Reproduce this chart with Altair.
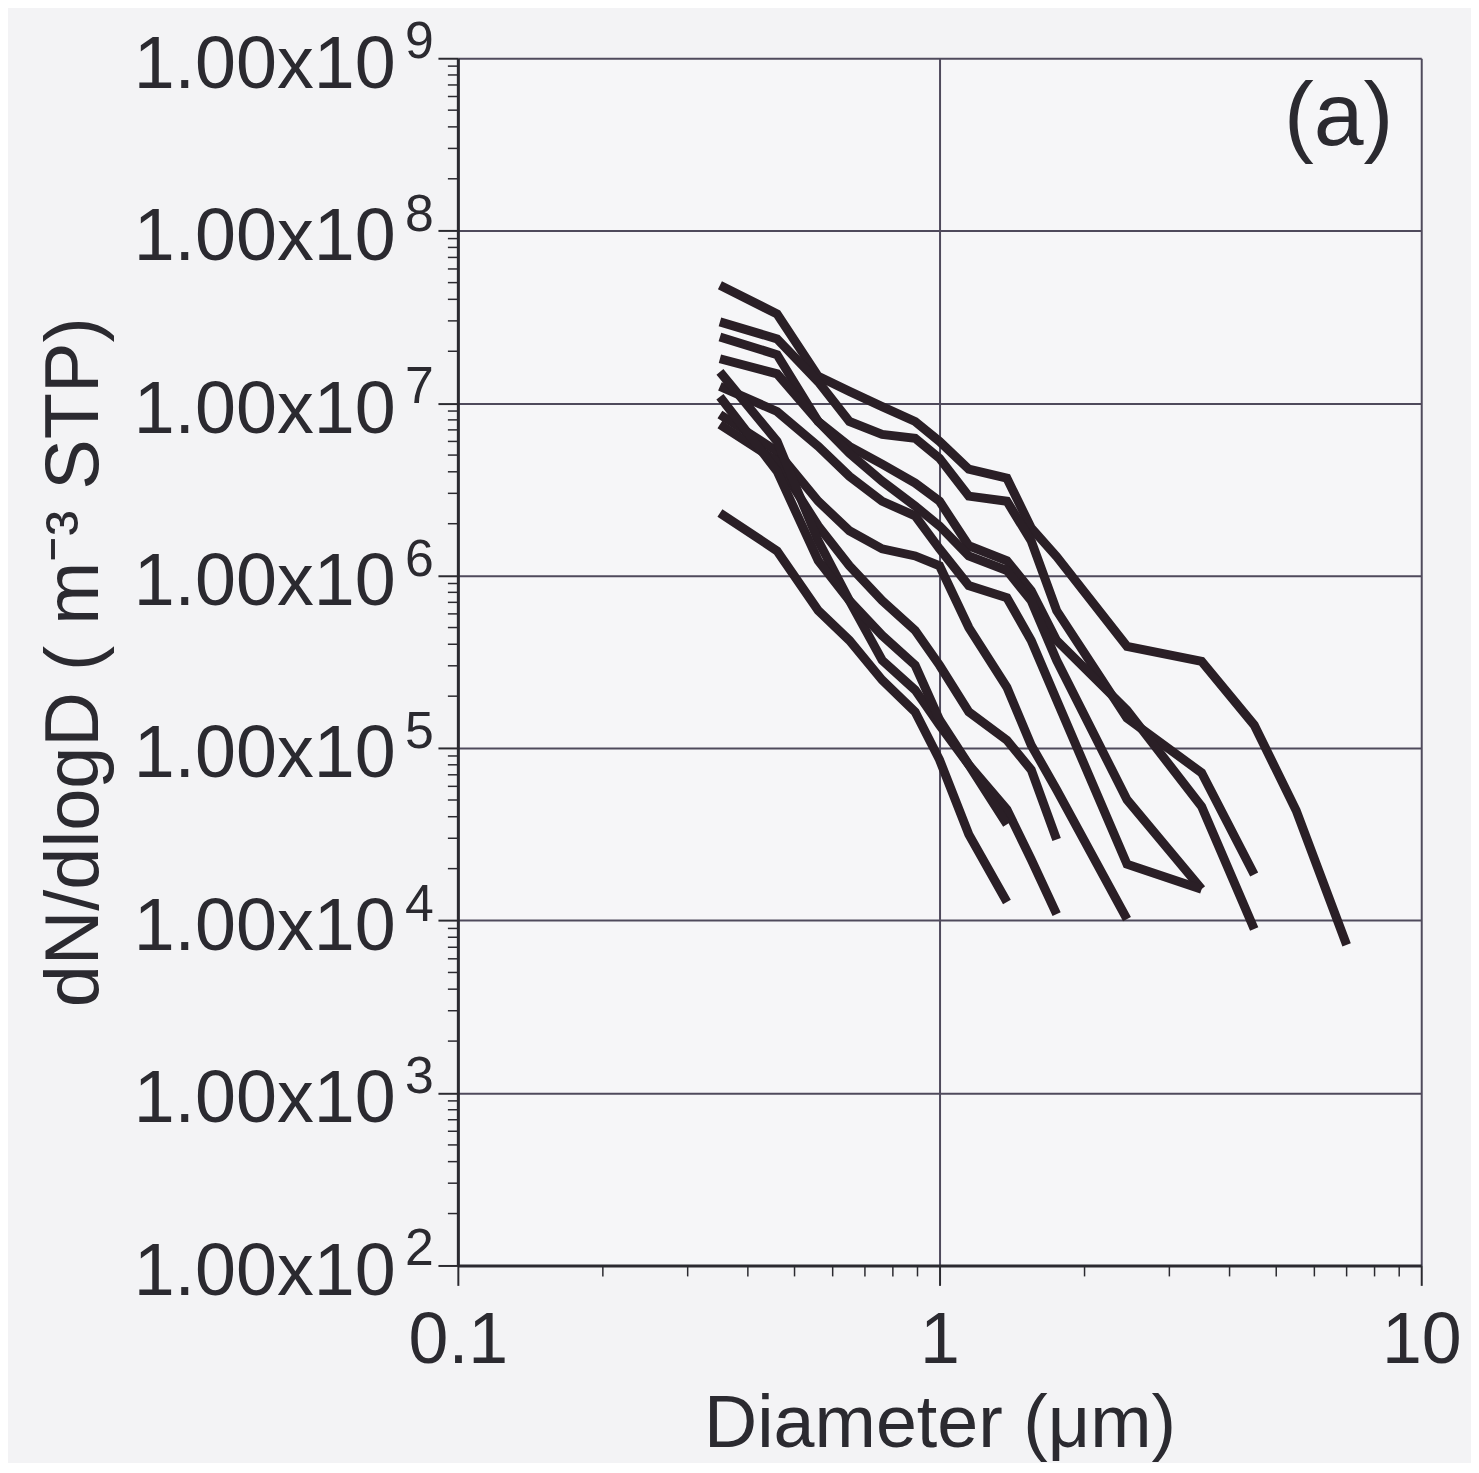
import altair as alt
import pandas as pd

# Particle diameter bins (um)
diam = [0.35, 0.46, 0.56, 0.65, 0.76, 0.89, 1.0, 1.15, 1.38, 1.55, 1.75, 2.45, 3.5, 4.5, 5.5, 7.0]

# dN/dlogD (m^-3 STP) for each size distribution
s1 = [4.83e7, 3.29e7, 1.43e7, 1.17e7, 9.55e6, 7.83e6, 6.00e6, 4.14e6, 3.67e6, 1.89e6, 1.29e6, 3.89e5, 3.18e5, 1.36e5, 4.35e4, 7.22e3]
s2 = [2.96e7, 2.36e7, 1.33e7, 7.83e6, 6.59e6, 6.25e6, 4.79e6, 2.89e6, 2.70e6, 1.59e6, 6.27e5, 1.49e5, 7.19e4, 1.85e4]
s3 = [2.42e7, 1.91e7, 7.83e6, 5.62e6, 4.43e6, 3.44e6, 2.70e6, 1.49e6, 1.22e6, 8.18e5, 4.21e5, 1.66e5, 4.58e4, 8.94e3]
s4 = [1.81e7, 1.48e7, 7.83e6, 5.12e6, 3.53e6, 2.53e6, 1.94e6, 1.30e6, 1.07e6, 7.16e5, 3.23e5, 5.02e4, 1.52e4]
s5 = [1.25e7, 8.95e6, 5.62e6, 3.77e6, 2.70e6, 2.22e6, 1.43e6, 8.75e5, 7.45e5, 4.21e5, 1.90e5, 2.12e4, 1.52e4]
s6 = [8.59e6, 5.26e6, 2.70e6, 1.82e6, 1.43e6, 1.30e6, 1.14e6, 5.00e5, 2.25e5, 1.04e5, 5.74e4, 1.02e4]
s7 = [7.52e6, 4.60e6, 1.94e6, 1.14e6, 7.16e5, 4.81e5, 3.02e5, 1.62e5, 1.11e5, 7.48e4, 2.95e4]
s8 = [1.52e7, 6.00e6, 1.59e6, 7.16e5, 3.23e5, 2.17e5, 1.36e5, 8.00e4, 4.40e4, 2.26e4, 1.09e4]
s9 = [1.09e7, 4.03e6, 1.22e6, 7.16e5, 4.50e5, 3.02e5, 1.46e5, 8.00e4, 3.61e4]
s10 = [2.31e6, 1.39e6, 6.27e5, 4.21e5, 2.48e5, 1.62e5, 8.55e4, 3.16e4, 1.28e4]

series = [s1, s2, s3, s4, s5, s6, s7, s8, s9, s10]

# Axis ticks
y_major = [1e2, 1e3, 1e4, 1e5, 1e6, 1e7, 1e8, 1e9]
y_exponents = ["2", "3", "4", "5", "6", "7", "8", "9"]
x_major = [0.1, 1, 10]
x_minor = [0.2, 0.3, 0.4, 0.5, 0.6, 0.7, 0.8, 0.9, 2, 3, 4, 5, 6, 7, 8, 9]
y_minor = [k * 10 ** d for d in range(2, 9) for k in range(2, 10)]

panel_label = "(a)"
panel_x = [6.74]
panel_y = [4.5e8]

rows = []
for i, s in enumerate(series):
    for d, v in zip(diam, s):
        rows.append({"series": f"S{i+1}", "D": d, "N": v})
df = pd.DataFrame(rows)

W, H = 968, 1213
FONT = "Liberation Sans"
INK = "#2b2a30"
LINE = "#2a1f26"
GRID = "#4f4a5c"

xscale = alt.Scale(type="log", domain=[0.1, 10], nice=False)
yscale = alt.Scale(type="log", domain=[1e2, 1e9], nice=False)

xaxis = alt.Axis(
    values=x_major,
    labelExpr="datum.value < 0.5 ? '0.1' : (datum.value < 5 ? '1' : '10')",
    title="Diameter (μm)",
    labelFontSize=72, titleFontSize=74, labelFont=FONT, titleFont=FONT,
    labelColor=INK, titleColor=INK, titleFontWeight="normal",
    tickSize=20, tickWidth=2, tickColor=INK,
    domainColor=INK, domainWidth=3,
    grid=True, gridColor=GRID, gridWidth=2, gridOpacity=1,
    labelPadding=20, titlePadding=13, labelFlush=False, labelOverlap=False,
    labelLimit=600, titleLimit=1200,
)
yaxis = alt.Axis(
    values=y_major,
    labelExpr="'1.00x10'",
    title="dN/dlogD ( m⁻³ STP)",
    labelFontSize=74, titleFontSize=76, labelFont=FONT, titleFont=FONT,
    labelColor=INK, titleColor=INK, titleFontWeight="normal",
    tickSize=20, tickWidth=2, tickColor=INK,
    domainColor=INK, domainWidth=3,
    grid=True, gridColor=GRID, gridWidth=2, gridOpacity=1,
    labelPadding=43, labelOffset=7, labelOverlap=False,
    labelBaseline="middle", labelLimit=600, titleLimit=1200,
    titleX=-346, titleY=H / 2, titleAngle=270, titleBaseline="bottom",
    titleAlign="center",
)

lines = alt.Chart(df).mark_line(
    color=LINE, strokeWidth=9, strokeJoin="miter", strokeCap="butt"
).encode(
    x=alt.X("D:Q", scale=xscale, axis=xaxis),
    y=alt.Y("N:Q", scale=yscale, axis=yaxis),
    detail="series:N",
)

exp_df = pd.DataFrame({"v": y_major, "e": y_exponents})
exps = alt.Chart(exp_df).mark_text(
    align="left", baseline="middle", dy=-16, fontSize=52, font=FONT, color=INK
).encode(
    x=alt.value(-53),
    y=alt.Y("v:Q", scale=yscale),
    text="e:N",
)

ymin_df = pd.DataFrame({"v": y_minor})
yminor = alt.Chart(ymin_df).mark_rule(color=INK, strokeWidth=1.5).encode(
    x=alt.value(-10), x2=alt.value(0), y=alt.Y("v:Q", scale=yscale)
)

xmin_df = pd.DataFrame({"v": x_minor})
xminor = alt.Chart(xmin_df).mark_rule(color=INK, strokeWidth=1.5).encode(
    x=alt.X("v:Q", scale=xscale), y=alt.value(H), y2=alt.value(H + 11)
)

lab_df = pd.DataFrame({"x": panel_x, "y": panel_y, "t": [panel_label]})
panel = alt.Chart(lab_df).mark_text(
    align="center", baseline="middle", fontSize=90, font=FONT, color=INK
).encode(
    x=alt.X("x:Q", scale=xscale), y=alt.Y("y:Q", scale=yscale), text="t:N"
)

chart = alt.layer(lines, exps, yminor, xminor, panel).properties(
    width=W, height=H,
    autosize=alt.AutoSizeParams(type="none"),
    padding={"left": 452, "top": 47, "right": 50, "bottom": 195},
    background="#f3f3f5",
).configure_view(strokeOpacity=0, fill="#f6f6f8")

chart.save("out.html", embed_options={"renderer": "svg", "actions": False})
